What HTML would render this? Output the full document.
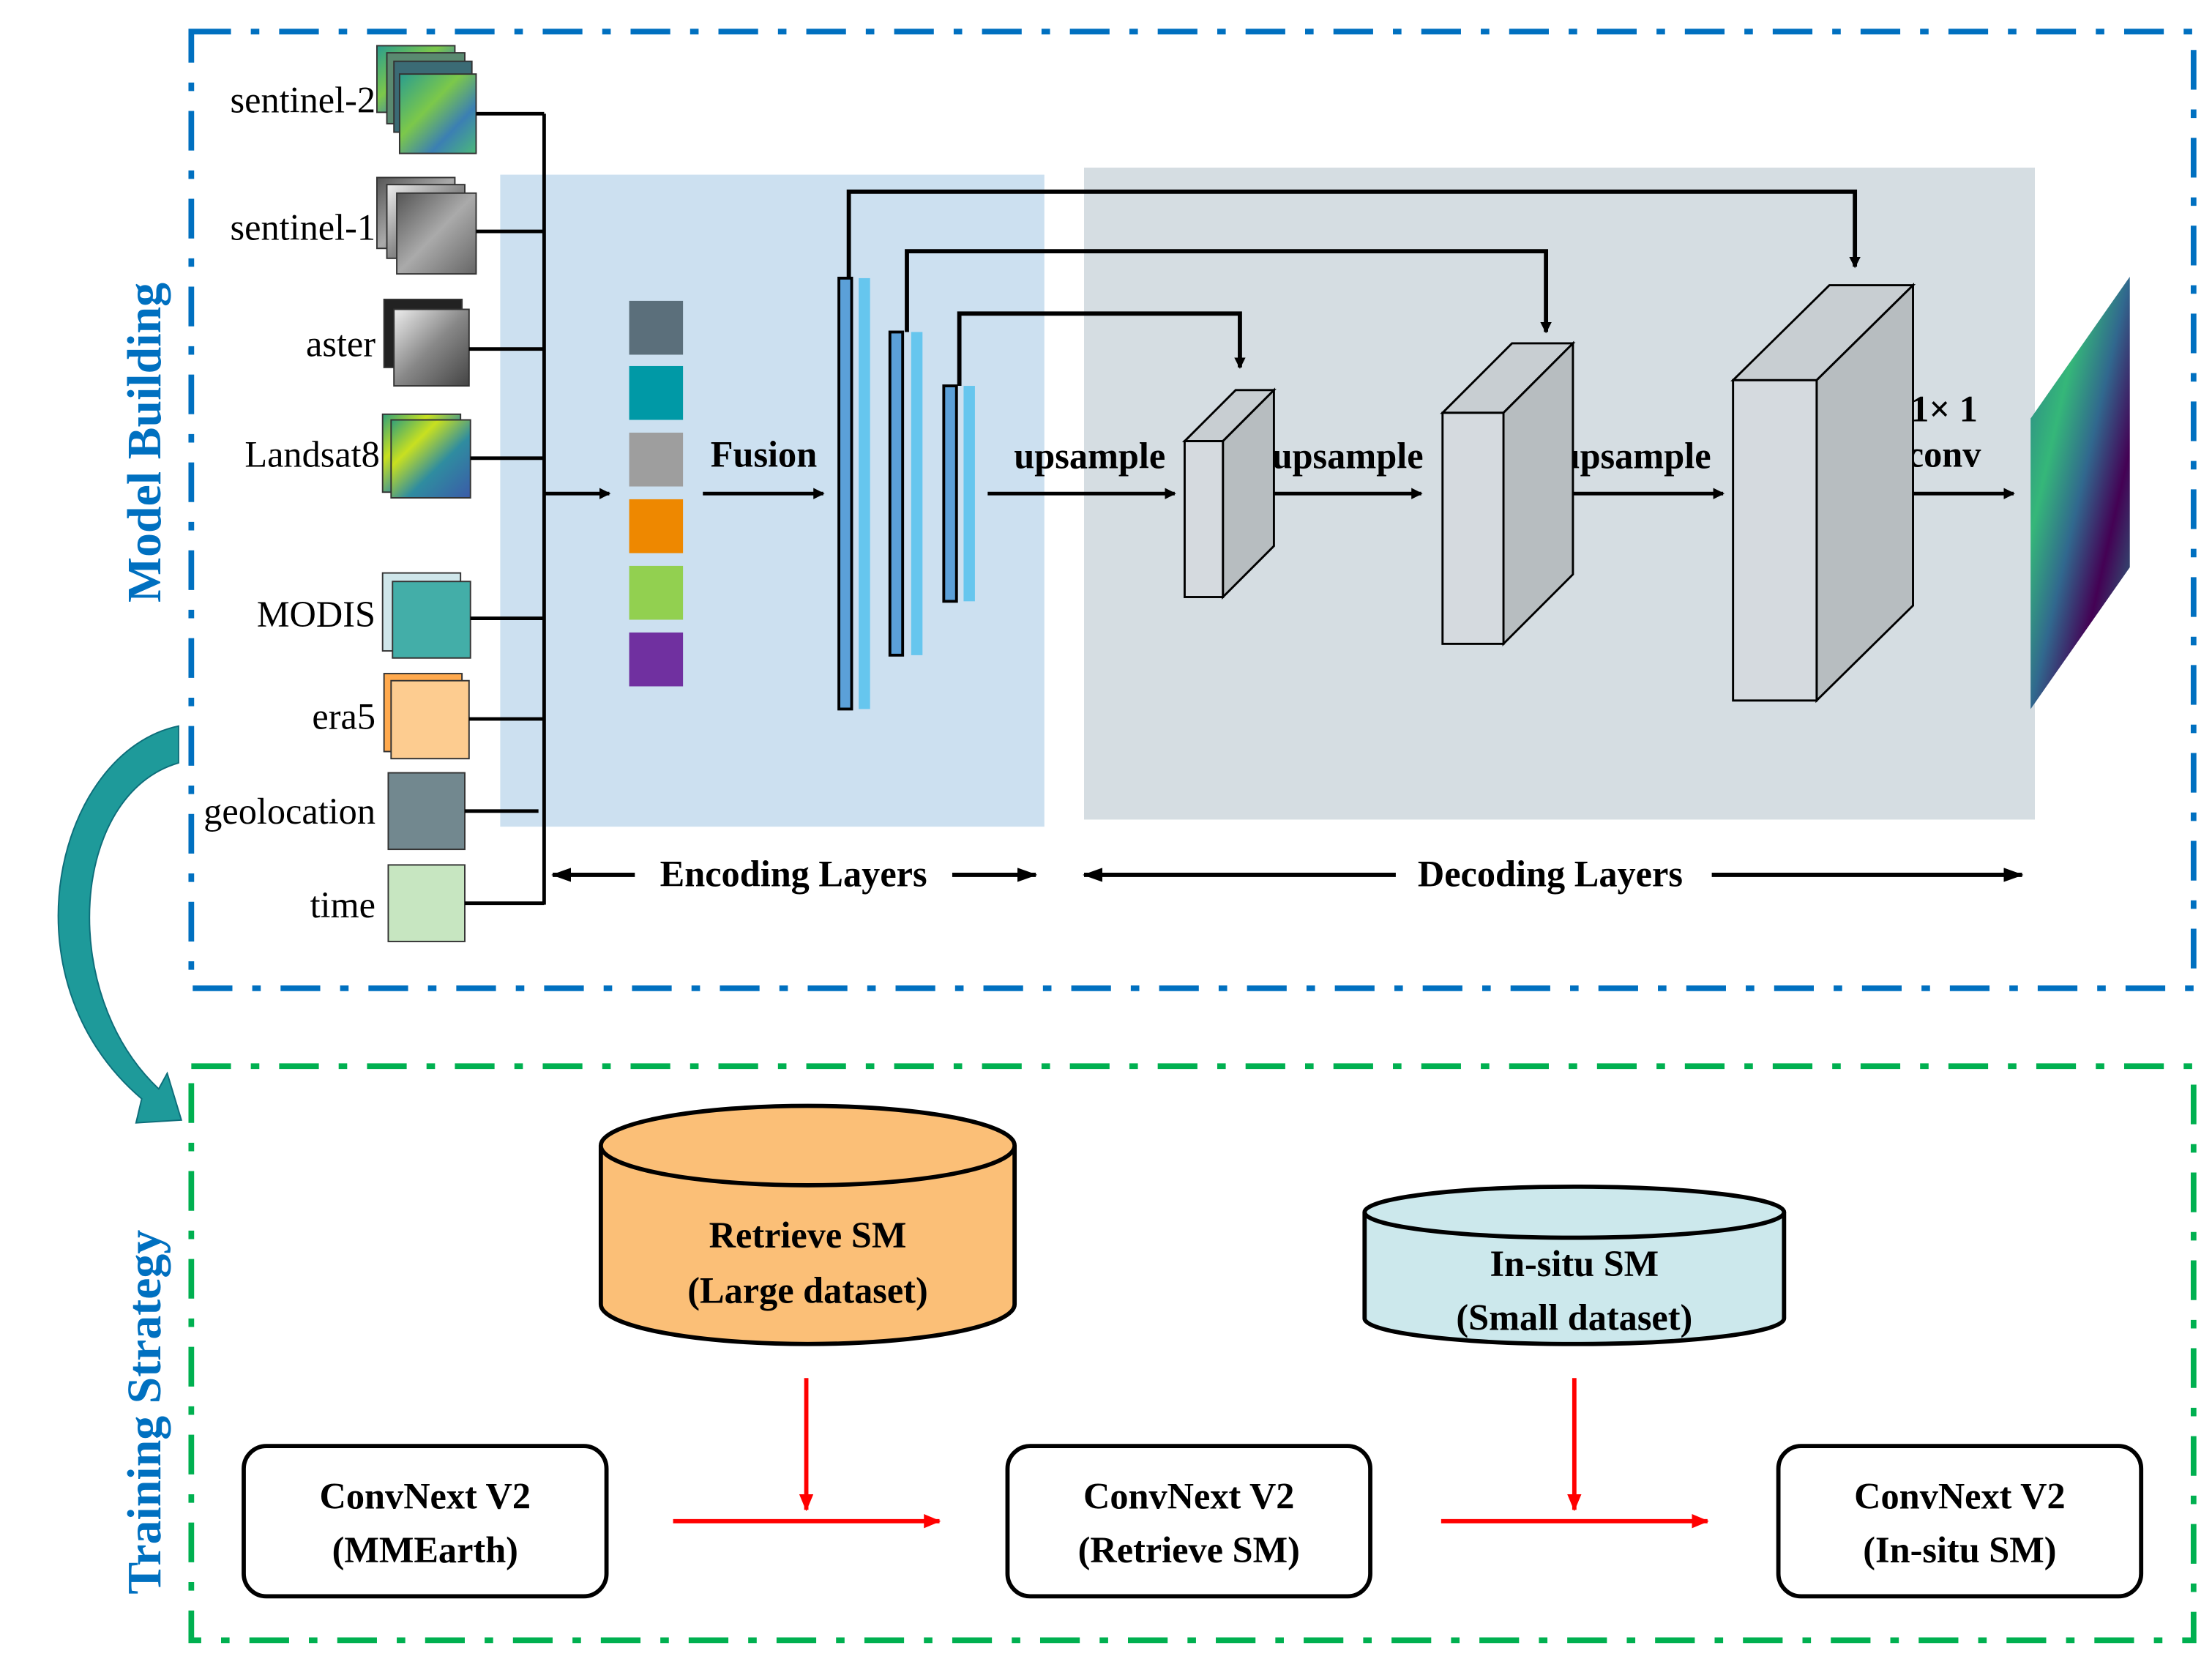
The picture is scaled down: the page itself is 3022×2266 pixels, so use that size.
<!DOCTYPE html>
<html><head><meta charset="utf-8"><style>html,body{margin:0;padding:0;background:#fff}svg{display:block}</style></head><body>
<svg width="3022" height="2266" viewBox="0 0 1561 1170" xmlns="http://www.w3.org/2000/svg" font-family="Liberation Serif, serif">
<defs>
<marker id="ah" markerWidth="8" markerHeight="8" refX="7" refY="4" orient="auto" markerUnits="userSpaceOnUse"><path d="M0,0 L8,4 L0,8 Z" fill="#000"/></marker>
<marker id="ahb" markerWidth="14" markerHeight="10" refX="13" refY="5" orient="auto" markerUnits="userSpaceOnUse"><path d="M0,0 L14,5 L0,10 Z" fill="#000"/></marker>
<marker id="ahr" markerWidth="12" markerHeight="10" refX="11" refY="5" orient="auto" markerUnits="userSpaceOnUse"><path d="M0,0 L12,5 L0,10 Z" fill="#f00"/></marker>
<linearGradient id="s2" x1="0" y1="0" x2="1" y2="1"><stop offset="0" stop-color="#2a9d8f"/><stop offset=".4" stop-color="#7cc84a"/><stop offset=".7" stop-color="#3b7fb3"/><stop offset="1" stop-color="#4cb87a"/></linearGradient>
<linearGradient id="g1" x1="0" y1="0" x2="1" y2="1"><stop offset="0" stop-color="#555"/><stop offset=".5" stop-color="#aaa"/><stop offset="1" stop-color="#666"/></linearGradient>
<linearGradient id="g2" x1="0" y1="0" x2="1" y2="1"><stop offset="0" stop-color="#eee"/><stop offset=".5" stop-color="#888"/><stop offset="1" stop-color="#444"/></linearGradient>
<linearGradient id="l8" x1="0" y1="0" x2="1" y2="1"><stop offset="0" stop-color="#31a07a"/><stop offset=".3" stop-color="#c8e020"/><stop offset=".6" stop-color="#2f8ca0"/><stop offset="1" stop-color="#3b5ba8"/></linearGradient>
<linearGradient id="out" x1="0" y1="0" x2="1" y2="1"><stop offset="0" stop-color="#2a788e"/><stop offset=".3" stop-color="#35b779"/><stop offset=".5" stop-color="#31688e"/><stop offset=".7" stop-color="#440154"/><stop offset="1" stop-color="#21918c"/></linearGradient>
</defs>
<rect x="135" y="22" width="1413" height="675" fill="none" stroke="#0070C0" stroke-width="4" stroke-dasharray="28,14,6,14"/>
<rect x="135" y="752" width="1413" height="405" fill="none" stroke="#00B050" stroke-width="4" stroke-dasharray="28,14,6,14"/>
<text transform="translate(113,312) rotate(-90)" text-anchor="middle" font-size="34" font-weight="bold" fill="#0070C0">Model Building</text>
<text transform="translate(113,996) rotate(-90)" text-anchor="middle" font-size="34" font-weight="bold" fill="#0070C0">Training Strategy</text>
<path d="M126,512 C40,530 0,690 100,775 L96,792 L128,790 L118,757 L112,768 C40,700 50,560 126,538 Z" fill="#1E9A9A" stroke="#0d6e7a" stroke-width="1"/>
<rect x="353" y="123" width="384" height="460" fill="#CCE0F0"/>
<rect x="765" y="118" width="671" height="460" fill="#D5DDE2"/>
<g font-size="26" text-anchor="end" fill="#000">
<text x="265" y="79">sentinel-2</text><text x="265" y="169">sentinel-1</text><text x="265" y="251">aster</text><text x="268" y="329">Landsat8</text><text x="265" y="442">MODIS</text><text x="265" y="514">era5</text><text x="265" y="581">geolocation</text><text x="265" y="647">time</text>
</g>
<g stroke="#333" stroke-width="1">
<rect x="266" y="32" width="55" height="47" fill="url(#s2)"/><rect x="273" y="37" width="55" height="50" fill="#5a8a70"/><rect x="278" y="43" width="55" height="50" fill="#3b6b75"/><rect x="282" y="52" width="54" height="56" fill="url(#s2)"/>
<rect x="266" y="125" width="55" height="50" fill="url(#g1)"/><rect x="273" y="130" width="55" height="52" fill="url(#g2)"/><rect x="280" y="136" width="56" height="57" fill="url(#g1)"/>
<rect x="271" y="211" width="55" height="48" fill="#222"/><rect x="278" y="218" width="53" height="54" fill="url(#g2)"/>
<rect x="270" y="292" width="55" height="55" fill="url(#l8)"/><rect x="276" y="296" width="56" height="55" fill="url(#l8)"/>
<rect x="270" y="404" width="55" height="55" fill="#CFE6EA"/><rect x="277" y="410" width="55" height="54" fill="#43AEA8"/>
<rect x="271" y="475" width="55" height="55" fill="#FFA94D"/><rect x="276" y="480" width="55" height="55" fill="#FDCC90"/>
<rect x="274" y="545" width="54" height="54" fill="#72888F"/>
<rect x="274" y="610" width="54" height="54" fill="#C7E6C1"/>
</g>
<g stroke="#000" stroke-width="2.5" fill="none">
<path d="M384,80 V638"/>
<path d="M336,80 H384 M336,163 H384 M331,246 H384 M332,323 H384 M332,436 H384 M331,507 H384 M328,572 H380 M328,637 H384"/>
</g>
<g stroke="#000" stroke-width="2.5" fill="none" marker-end="url(#ah)">
<path d="M385,348 H430"/><path d="M496,348 H581"/><path d="M697,348 H829"/><path d="M883,348 H1003"/><path d="M1086,348 H1216"/><path d="M1323,348 H1421"/>
</g>
<rect x="444" y="212" width="38" height="38" fill="#5B6F7B"/><rect x="444" y="258" width="38" height="38" fill="#0099A6"/><rect x="444" y="305" width="38" height="38" fill="#9E9E9E"/><rect x="444" y="352" width="38" height="38" fill="#EE8800"/><rect x="444" y="399" width="38" height="38" fill="#92D050"/><rect x="444" y="446" width="38" height="38" fill="#7030A0"/>
<g font-size="26" font-weight="bold" text-anchor="middle">
<text x="539" y="329">Fusion</text><text x="769" y="330">upsample</text><text x="951" y="330">upsample</text><text x="1154" y="330">upsample</text><text x="1372" y="297">1× 1</text><text x="1372" y="329">conv</text>
<text x="560" y="625">Encoding Layers</text><text x="1094" y="625">Decoding Layers</text>
</g>
<g stroke="#000" stroke-width="3" fill="none">
<path d="M599,196 V135 H1309 V188" marker-end="url(#ah)"/>
<path d="M640,234 V177 H1091 V234" marker-end="url(#ah)"/>
<path d="M677,272 V221 H875 V259" marker-end="url(#ah)"/>
</g>
<g stroke="#000" stroke-width="2">
<rect x="592" y="196" width="9" height="304" fill="#5BA0D8"/><rect x="628" y="234" width="9" height="228" fill="#5BA0D8"/><rect x="666" y="272" width="9" height="152" fill="#5BA0D8"/>
</g>
<rect x="606" y="196" width="8" height="304" fill="#66C6EE"/><rect x="643" y="234" width="8" height="228" fill="#66C6EE"/><rect x="680" y="272" width="8" height="152" fill="#66C6EE"/>
<g stroke="#000" stroke-width="1.5">
<polygon points="836,311 872,275 899,275 863,311" fill="#C8CED2"/><polygon points="863,311 899,275 899,385 863,421" fill="#B7BDC0"/><rect x="836" y="311" width="27" height="110" fill="#D5DADF"/>
<polygon points="1018,291 1067,242 1110,242 1061,291" fill="#C8CED2"/><polygon points="1061,291 1110,242 1110,405 1061,454" fill="#B7BDC0"/><rect x="1018" y="291" width="43" height="163" fill="#D5DADF"/>
<polygon points="1223,268 1291,201 1350,201 1282,268" fill="#C8CED2"/><polygon points="1282,268 1350,201 1350,427 1282,494" fill="#B7BDC0"/><rect x="1223" y="268" width="59" height="226" fill="#D5DADF"/>
</g>
<polygon points="1433,295 1503,195 1503,400 1433,500" fill="url(#out)"/>
<g stroke="#000" stroke-width="3" fill="none" marker-end="url(#ahb)">
<path d="M448,617 H390"/><path d="M672,617 H731"/><path d="M985,617 H765"/><path d="M1208,617 H1427"/>
</g>
<g stroke="#000" stroke-width="3">
<path d="M424,808 V920 A146,28 0 0 0 716,920 V808" fill="#FBBF77"/><ellipse cx="570" cy="808" rx="146" ry="28" fill="#FBBF77"/>
<path d="M963,855 V930 A148,18 0 0 0 1259,930 V855" fill="#CCE8EC"/><ellipse cx="1111" cy="855" rx="148" ry="18" fill="#CCE8EC"/>
</g>
<g font-size="26" font-weight="bold" text-anchor="middle">
<text x="570" y="880">Retrieve SM</text><text x="570" y="919">(Large dataset)</text>
<text x="1111" y="900">In-situ SM</text><text x="1111" y="938">(Small dataset)</text>
</g>
<g stroke="#000" stroke-width="3" fill="#fff">
<rect x="172" y="1020" width="256" height="106" rx="16"/><rect x="711" y="1020" width="256" height="106" rx="16"/><rect x="1255" y="1020" width="256" height="106" rx="16"/>
</g>
<g font-size="26" font-weight="bold" text-anchor="middle">
<text x="300" y="1064">ConvNext V2</text><text x="300" y="1102">(MMEarth)</text>
<text x="839" y="1064">ConvNext V2</text><text x="839" y="1102">(Retrieve SM)</text>
<text x="1383" y="1064">ConvNext V2</text><text x="1383" y="1102">(In-situ SM)</text>
</g>
<g stroke="#f00" stroke-width="3" fill="none" marker-end="url(#ahr)">
<path d="M475,1073 H663"/><path d="M569,972 V1065"/><path d="M1017,1073 H1205"/><path d="M1111,972 V1065"/>
</g>
</svg>
</body></html>
